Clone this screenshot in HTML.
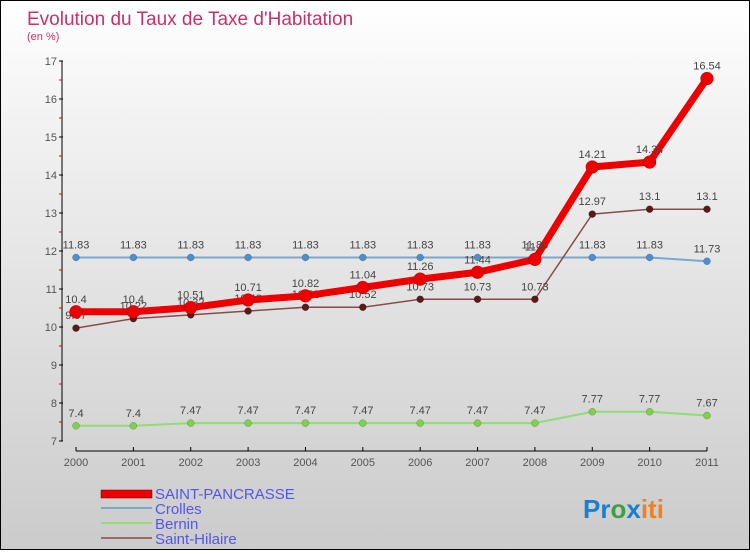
<!DOCTYPE html>
<html><head><meta charset="utf-8"><style>
html,body{margin:0;padding:0}
body{width:750px;height:550px;overflow:hidden;font-family:"Liberation Sans",sans-serif}
#wrap{position:relative;width:748px;height:548px;border:1px solid #000;background:linear-gradient(#fff,#f3f3f3 20%,#cbcbcb)}
</style></head><body>
<div id="wrap">
<svg id="chart" width="748" height="548" xmlns="http://www.w3.org/2000/svg">
<text x="26" y="24" font-size="19" fill="#c8306a">Evolution du Taux de Taxe d'Habitation</text>
<text x="26" y="39" font-size="11" fill="#c8306a">(en %)</text>
<g id="axes"></g><g id="series"></g>
<g>
<rect x="100" y="489" width="51" height="8" fill="#e00" stroke="#600" stroke-width="0.5"/>
<text x="154" y="498" font-size="15" fill="#5555ee">SAINT-PANCRASSE</text>
<line x1="100" y1="507" x2="151" y2="507" stroke="#7aa8d0" stroke-width="2"/>
<text x="154" y="513" font-size="15" fill="#5555ee">Crolles</text>
<line x1="100" y1="522" x2="151" y2="522" stroke="#90dd70" stroke-width="2"/>
<text x="154" y="528" font-size="15" fill="#5555ee">Bernin</text>
<line x1="100" y1="537" x2="151" y2="537" stroke="#9a6a6a" stroke-width="2"/>
<text x="154" y="543" font-size="15" fill="#5555ee">Saint-Hilaire</text>
</g>
<text x="582" y="517" font-size="26" font-weight="bold"><tspan fill="#1a7fd0">Pr</tspan><tspan fill="#40a040">o</tspan><tspan fill="#1a7fd0">x</tspan><tspan fill="#f08020">iti</tspan></text>
</svg></div>
<script>
const years=[2000,2001,2002,2003,2004,2005,2006,2007,2008,2009,2010,2011];
const yTicks=[7,8,9,10,11,12,13,14,15,16,17];
const saintPancrasse=[10.4,10.4,10.51,10.71,10.82,11.04,11.26,11.44,11.78,14.21,14.34,16.54];
const saintPancrasseLabels=["10.4","10.4","10.51","10.71","10.82","11.04","11.26","11.44","11.8","14.21","14.34","16.54"];
const crolles=[11.83,11.83,11.83,11.83,11.83,11.83,11.83,11.83,11.83,11.83,11.83,11.73];
const bernin=[7.4,7.4,7.47,7.47,7.47,7.47,7.47,7.47,7.47,7.77,7.77,7.67];
const saintHilaire=[9.97,10.22,10.32,10.42,10.52,10.52,10.73,10.73,10.73,12.97,13.1,13.1];
const NS="http://www.w3.org/2000/svg";
const X=i=>75+i*(631/11);
const Y=v=>440-(v-7)*38;
function mk(tag,attrs,parent,txt){const e=document.createElementNS(NS,tag);for(const k in attrs)e.setAttribute(k,attrs[k]);if(txt!==undefined)e.textContent=txt;parent.appendChild(e);return e;}
const ax=document.getElementById('axes');
let yl=mk('line',{x1:61,y1:60,x2:61,y2:440,stroke:'#000'},ax);


yTicks.forEach(t=>{
  mk('line',{x1:58,y1:Y(t),x2:62,y2:Y(t),stroke:'#000'},ax);
  if(t<17)mk('line',{x1:58,y1:Y(t+0.5),x2:61,y2:Y(t+0.5),stroke:'#d00'},ax);
  let tx=mk('text',{x:56,y:Y(t)+4,'font-size':11,fill:'#555','text-anchor':'end'},ax,t);
  
  
});
let xl=mk('line',{x1:75,y1:450,x2:706,y2:450,stroke:'#000'},ax);


years.forEach((yr,i)=>{
  mk('line',{x1:X(i),y1:446,x2:X(i),y2:450,stroke:'#000'},ax);
  let tx=mk('text',{x:X(i),y:465,'font-size':11,fill:'#555','text-anchor':'middle'},ax,yr);
  
  
});
const sg=document.getElementById('series');
function series(name,vals,labels,color,fill,w,r){
  const g=mk('g',{},sg);
  
  
  mk('polyline',{points:vals.map((v,i)=>X(i)+','+Y(v)).join(' '),fill:'none',stroke:color,'stroke-width':w,'stroke-linejoin':'round'},g);
  vals.forEach((v,i)=>{
    const c=mk('circle',{cx:X(i),cy:Y(v),r:r,fill:fill,stroke:'rgba(0,0,0,0.3)','stroke-width':0.5},g);
    
    
    mk('text',{x:X(i),y:Y(v)-9,'font-size':11,fill:'#444','text-anchor':'middle'},g,labels?labels[i]:String(v));
  });
}
series('crolles',crolles,null,'#7aa8d0','#4a90d0',2,3.5);
series('bernin',bernin,null,'#90dd70','#80d050',2,3.5);
series('saint-hilaire',saintHilaire,null,'#8a4a4a','#5a1a1a',1.5,3.5);
series('saint-pancrasse',saintPancrasse,saintPancrasseLabels,'#ee0000','#ee0000',7,6.5);
</script>
</body></html>
